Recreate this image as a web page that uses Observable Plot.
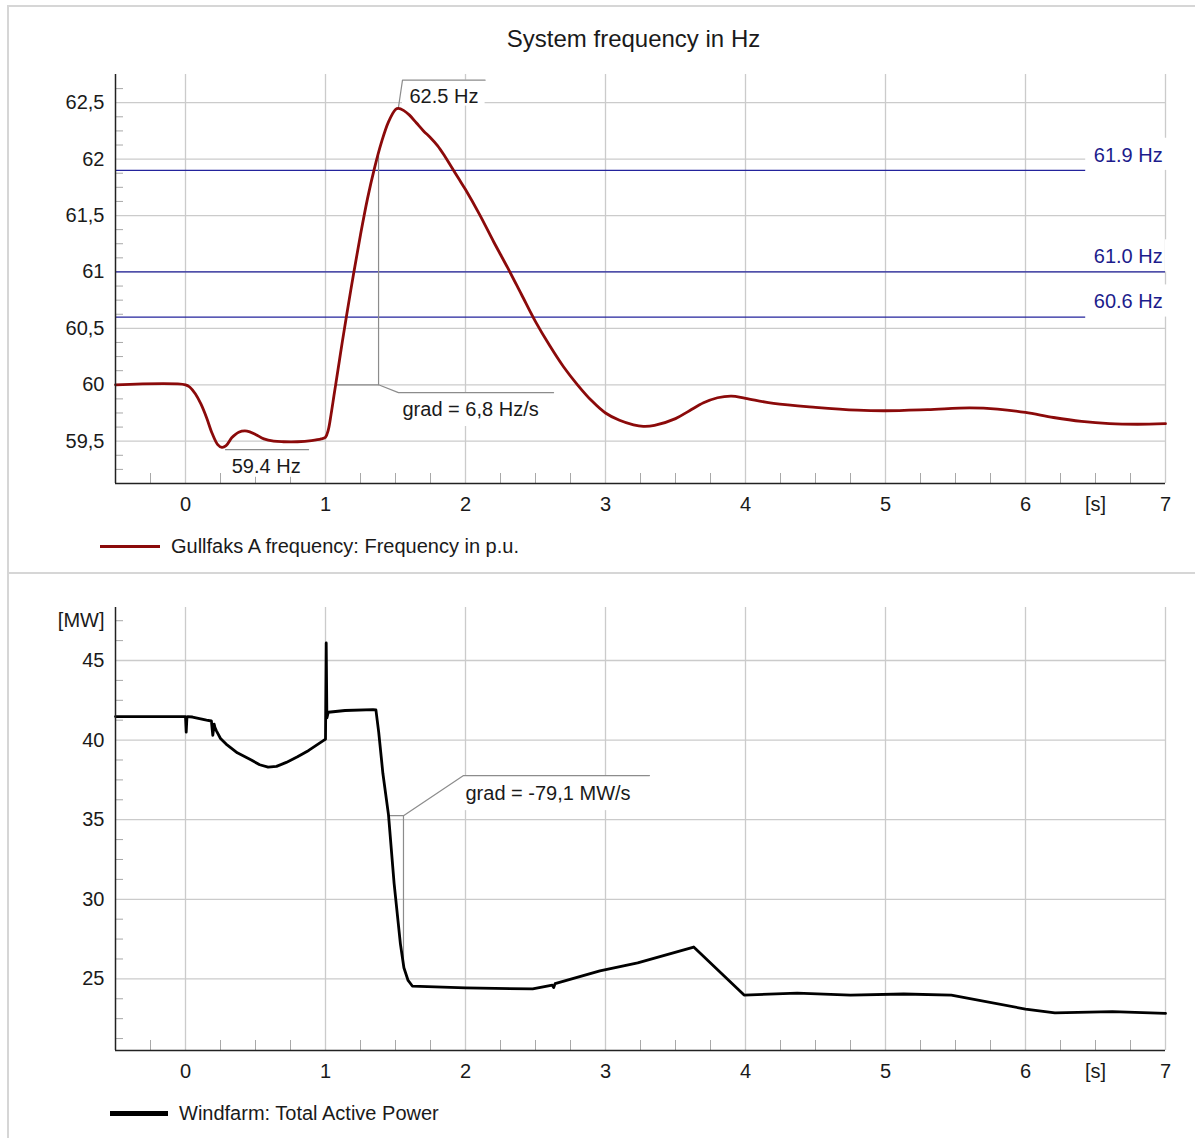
<!DOCTYPE html>
<html>
<head>
<meta charset="utf-8">
<script src="https://cdn.jsdelivr.net/npm/d3@7"></script>
<script src="https://cdn.jsdelivr.net/npm/@observablehq/plot@0.6"></script>
<style>
  body { margin: 0; background: #fff; font-family: "Liberation Sans", Arial, sans-serif; }
  #wrap { position: relative; width: 1195px; height: 1138px; overflow: hidden; background: #fff; }
  .abs { position: absolute; }
  .hline { position: absolute; border-top: 2px solid #d6d6d6; height: 0; }
  .vline { position: absolute; border-left: 2px solid #d6d6d6; width: 0; }
  #title { left: 0; width: 1267px; top: 25px; text-align: center; font-size: 24px; color: #1a1a1a; }
  .legend { position: absolute; display: flex; align-items: center; font-size: 20px; color: #1a1a1a; white-space: nowrap; }
  .legend .sw { display: inline-block; height: 0; margin-right: 11px; }
</style>
</head>
<body>
<div id="wrap">
  <div class="hline" style="left:7px; top:5px; width:1188px;"></div>
  <div class="vline" style="left:7px; top:5px; height:1133px;"></div>
  <div class="hline" style="left:7px; top:572px; width:1188px;"></div>
  <div id="title" class="abs">System frequency in Hz</div>
  <div id="topChart" class="abs" style="left:0; top:0;"></div>
  <div id="botChart" class="abs" style="left:0; top:572px;"></div>
  <div class="legend" style="left:100px; top:535px;"><span class="sw" style="width:60px; border-top:3.5px solid #8b0a0a;"></span><span id="leg1"></span></div>
  <div class="legend" style="left:110px; top:1102px;"><span class="sw" style="width:58px; border-top:5px solid #000;"></span><span id="leg2"></span></div>
</div>
<script>
// ---------------- data ----------------
const freqTime = [-0.5, 0, 0.03, 0.07, 0.11, 0.15, 0.19, 0.23, 0.26, 0.29, 0.33, 0.38, 0.44, 0.5, 0.56, 0.63, 0.7, 0.8, 0.9, 0.97, 1.0,
  1.02, 1.04, 1.06, 1.08, 1.1, 1.12, 1.15, 1.2, 1.25, 1.3, 1.35, 1.4, 1.45, 1.5, 1.52, 1.56, 1.6, 1.65, 1.7, 1.75, 1.8, 1.85, 1.9, 1.95,
  2.0, 2.1, 2.2, 2.3, 2.4, 2.5, 2.6, 2.7, 2.8, 2.9, 3.0, 3.1, 3.2, 3.27, 3.35, 3.5, 3.6, 3.7, 3.8, 3.9, 4.0, 4.2, 4.5, 4.8, 5.0, 5.3, 5.6, 5.8,
  6.0, 6.2, 6.4, 6.6, 6.8, 7.0];
const freqHz = [60, 60, 59.98, 59.92, 59.83, 59.71, 59.57, 59.47, 59.445, 59.46, 59.53, 59.58, 59.59, 59.56, 59.52, 59.5, 59.495, 59.495, 59.505, 59.52, 59.535,
  59.6, 59.74, 59.9, 60.06, 60.22, 60.38, 60.61, 60.98, 61.33, 61.65, 61.92, 62.15, 62.33, 62.44, 62.45, 62.43, 62.39, 62.32, 62.25, 62.19, 62.12, 62.03, 61.93, 61.83,
  61.73, 61.51, 61.27, 61.04, 60.8, 60.56, 60.35, 60.16, 60.0, 59.86, 59.75, 59.685, 59.645, 59.632, 59.64, 59.7, 59.77, 59.84, 59.885, 59.9, 59.88, 59.835, 59.80, 59.775, 59.77, 59.78, 59.795, 59.785,
  59.755, 59.71, 59.675, 59.655, 59.65, 59.655];

const powerTime = [-0.5, 0, 0.005, 0.01, 0.015, 0.05, 0.15, 0.185, 0.195, 0.205, 0.21, 0.22, 0.25, 0.29, 0.37, 0.47, 0.53, 0.59, 0.65, 0.72, 0.8, 0.88, 0.995,
  1.0, 1.005, 1.01, 1.02, 1.14, 1.34, 1.36, 1.38, 1.41, 1.45, 1.49, 1.535, 1.56, 1.59, 1.62, 2.0, 2.48, 2.62, 2.63, 2.64, 2.96, 3.23, 3.63,
  3.99, 4.37, 4.75, 5.13, 5.47, 6.0, 6.21, 6.62, 7.0];
const powerMW = [41.48, 41.48, 40.5, 41.4, 41.48, 41.45, 41.25, 41.2, 40.3, 41.0, 40.8, 40.6, 40.1, 39.75, 39.2, 38.75, 38.45, 38.3, 38.35, 38.6, 38.95, 39.35, 40.03,
  40.05, 46.1, 41.4, 41.75, 41.86, 41.92, 41.9, 40.5, 37.9, 35.3, 31.0, 27.2, 25.7, 24.9, 24.55, 24.43, 24.37, 24.6, 24.45, 24.7, 25.5, 26.0, 27.0,
  23.98, 24.1, 23.98, 24.05, 23.98, 23.1, 22.86, 22.94, 22.83];

const xTickValues = [0, 1, 2, 3, 4, 5, 6, 6.5, 7];
const xTickLabels = ["0", "1", "2", "3", "4", "5", "6", "[s]", "7"];
const xGridValues = [0, 1, 2, 3, 4, 5, 6, 7];
const freqTickValues = [59.5, 60, 60.5, 61, 61.5, 62, 62.5];
const freqTickLabels = ["59,5", "60", "60,5", "61", "61,5", "62", "62,5"];
const powerTickValues = [25, 30, 35, 40, 45, 47.5];
const powerTickLabels = ["25", "30", "35", "40", "45", "[MW]"];
const powerGridValues = [25, 30, 35, 40, 45];

const thresholdHz = [61.9, 61.0, 60.6];
const thresholdEnd = [6.43, 7, 6.43];
const thresholdLabels = ["61.9 Hz", "61.0 Hz", "60.6 Hz"];

const legendFreq = "Gullfaks A frequency: Frequency in p.u.";
const legendPower = "Windfarm: Total Active Power";

// annotations (data coordinates)
const freqNoteLines = [
  {id: "peak", t: 1.52, v: 62.45}, {id: "peak", t: 1.55, v: 62.70}, {id: "peak", t: 2.14, v: 62.70},
  {id: "min", t: 0.286, v: 59.425}, {id: "min", t: 0.879, v: 59.425},
  {id: "br", t: 1.075, v: 60.0}, {id: "br", t: 1.379, v: 60.0}, {id: "br", t: 1.379, v: 62.03},
  {id: "lead", t: 1.379, v: 60.0}, {id: "lead", t: 1.521, v: 59.93}, {id: "lead", t: 2.629, v: 59.93}
];
const freqNoteBoxes = [
  {x1: 1.55, x2: 2.14, y1: 62.70, y2: 62.47},
  {x1: 0.27, x2: 0.879, y1: 59.42, y2: 59.18},
  {x1: 1.521, x2: 2.629, y1: 59.925, y2: 59.63}
];
const freqNoteTexts = [
  {t: 1.6, v: 62.553, text: "62.5 Hz"},
  {t: 0.33, v: 59.274, text: "59.4 Hz"},
  {t: 1.55, v: 59.78, text: "grad = 6,8 Hz/s"}
];
const powerNoteLines = [
  {id: "br", t: 1.45, v: 35.25}, {id: "br", t: 1.557, v: 35.25}, {id: "br", t: 1.557, v: 25.8},
  {id: "lead", t: 1.557, v: 35.25}, {id: "lead", t: 1.986, v: 37.77}, {id: "lead", t: 3.314, v: 37.77}
];
const powerNoteBoxes = [{x1: 1.986, x2: 3.314, y1: 37.76, y2: 35.57}];
const powerNoteTexts = [{t: 2.0, v: 36.63, text: "grad = -79,1 MW/s"}];

// ---------------- layout ----------------
const W = 1195, mL = 115, mR = 30;
const frameW = W - mL - mR;
const topH = 572, topMT = 74, topMB = 89, topFrameH = topH - topMT - topMB;
const botH = 566, botMT = 35, botMB = 88, botFrameH = botH - botMT - botMB;
const FONT = '"Liberation Sans", Arial, sans-serif';
const gridColor = "#cbcbcb", tickColor = "#a8a8a8", noteColor = "#8c8c8c";
const blue = "#23239c", blueText = "#1c1c8c", red = "#8b0a0a";

const freqData = freqTime.map((t, i) => ({t, v: freqHz[i]}));
const powerData = powerTime.map((t, i) => ({t, v: powerMW[i]}));
const thresholds = thresholdHz.map((v, i) => ({v, end: thresholdEnd[i], label: thresholdLabels[i]}));

const xMinor = d3.range(-0.25, 7, 0.25).filter(d => Math.abs(d - Math.round(d)) > 1e-9);
const freqMinor = d3.range(59.25, 62.7, 0.125).filter(d => Math.abs(d * 2 - Math.round(d * 2)) > 1e-9);
const powerMinor = d3.range(21.25, 48, 1.25).filter(d => Math.abs(d / 5 - Math.round(d / 5)) > 1e-9);

const xLabel = d => xTickLabels[xTickValues.indexOf(d)];
const fLabel = d => freqTickLabels[freqTickValues.indexOf(d)];
const pLabel = d => powerTickLabels[powerTickValues.indexOf(d)];

const common = {
  width: W, marginLeft: mL, marginRight: mR,
  style: {fontFamily: FONT, fontSize: "20px", color: "#1a1a1a", background: "transparent", overflow: "visible"},
  x: {domain: [-0.5, 7]}
};

const yMinF = 59.125, yMaxF = 62.75;
const topPlot = Plot.plot({
  ...common,
  height: topH, marginTop: topMT, marginBottom: topMB,
  y: {domain: [yMinF, yMaxF]},
  marks: [
    Plot.ruleX(xGridValues, {stroke: gridColor, strokeWidth: 1.3}),
    Plot.ruleY(freqTickValues, {stroke: gridColor, strokeWidth: 1.3}),
    Plot.tickX(xMinor, {x: d => d, insetTop: topFrameH - 10, stroke: tickColor}),
    Plot.tickY(freqMinor, {y: d => d, insetRight: frameW - 8, stroke: tickColor}),
    Plot.rect(thresholds, {x1: "end", x2: 7.02, y1: "v", y2: d => d.v + 0.285, fill: "white"}),
    Plot.ruleY(thresholds, {y: "v", x1: -0.5, x2: "end", stroke: blue, strokeWidth: 1.3}),
    Plot.text(thresholds, {x: 6.98, y: d => d.v + 0.135, text: "label", textAnchor: "end", fill: blueText, fontSize: 20}),
    Plot.rect(freqNoteBoxes, {x1: "x1", x2: "x2", y1: "y1", y2: "y2", fill: "white"}),
    Plot.line(freqNoteLines, {x: "t", y: "v", z: "id", stroke: noteColor, strokeWidth: 1.2}),
    Plot.line(freqData, {x: "t", y: "v", stroke: red, strokeWidth: 2.8, curve: "catmull-rom"}),
    Plot.text(freqNoteTexts, {x: "t", y: "v", text: "text", textAnchor: "start", fill: "#1a1a1a", fontSize: 20}),
    Plot.ruleX([-0.5], {stroke: "#222", strokeWidth: 1.5}),
    Plot.ruleY([yMinF], {stroke: "#222", strokeWidth: 1.5}),
    Plot.axisY(freqTickValues, {tickSize: 0, tickPadding: 11, tickFormat: fLabel, fontSize: 20, label: null}),
    Plot.axisX(xTickValues, {tickSize: 0, tickPadding: 13, tickFormat: xLabel, fontSize: 20, label: null})
  ]
});
document.getElementById("topChart").append(topPlot);

const yMinP = 20.5, yMaxP = 48.33;
const botPlot = Plot.plot({
  ...common,
  height: botH, marginTop: botMT, marginBottom: botMB,
  y: {domain: [yMinP, yMaxP]},
  marks: [
    Plot.ruleX(xGridValues, {stroke: gridColor, strokeWidth: 1.3}),
    Plot.ruleY(powerGridValues, {stroke: gridColor, strokeWidth: 1.3}),
    Plot.tickX(xMinor, {x: d => d, insetTop: botFrameH - 10, stroke: tickColor}),
    Plot.tickY(powerMinor, {y: d => d, insetRight: frameW - 8, stroke: tickColor}),
    Plot.rect(powerNoteBoxes, {x1: "x1", x2: "x2", y1: "y1", y2: "y2", fill: "white"}),
    Plot.line(powerNoteLines, {x: "t", y: "v", z: "id", stroke: noteColor, strokeWidth: 1.2}),
    Plot.line(powerData, {x: "t", y: "v", stroke: "#000", strokeWidth: 2.8}),
    Plot.text(powerNoteTexts, {x: "t", y: "v", text: "text", textAnchor: "start", fill: "#1a1a1a", fontSize: 20}),
    Plot.ruleX([-0.5], {stroke: "#222", strokeWidth: 1.5}),
    Plot.ruleY([yMinP], {stroke: "#222", strokeWidth: 1.5}),
    Plot.axisY(powerTickValues, {tickSize: 0, tickPadding: 11, tickFormat: pLabel, fontSize: 20, label: null}),
    Plot.axisX(xTickValues, {tickSize: 0, tickPadding: 13, tickFormat: xLabel, fontSize: 20, label: null})
  ]
});
document.getElementById("botChart").append(botPlot);

document.getElementById("leg1").textContent = legendFreq;
document.getElementById("leg2").textContent = legendPower;
</script>
</body>
</html>
